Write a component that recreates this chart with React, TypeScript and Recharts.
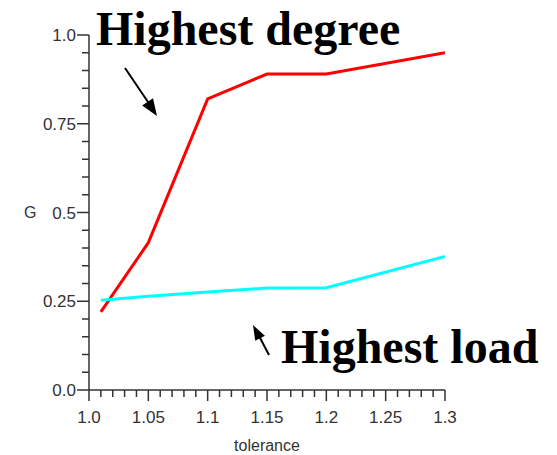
import React from 'react';
import { LineChart, Line, XAxis, YAxis } from 'recharts';

// tolerance values along x, G values per heuristic
const degreeX = [1.01, 1.05, 1.1, 1.15, 1.2, 1.3];
const degreeG = [0.22, 0.415, 0.82, 0.89, 0.89, 0.95];
const loadX = [1.01, 1.05, 1.1, 1.15, 1.2, 1.3];
const loadG = [0.253, 0.264, 0.276, 0.287, 0.288, 0.376];

const xMajor = [1.0, 1.05, 1.1, 1.15, 1.2, 1.25, 1.3];
const xLabels = ['1.0', '1.05', '1.1', '1.15', '1.2', '1.25', '1.3'];
const yMajor = [0, 0.25, 0.5, 0.75, 1.0];
const yLabels = ['0.0', '0.25', '0.5', '0.75', '1.0'];

// minor ticks every 0.01 on x and 0.05 on y
const xTicks: number[] = [];
for (let i = 0; i <= 30; i++) xTicks.push(Math.round((1 + i * 0.01) * 100) / 100);
const yTicks: number[] = [];
for (let i = 0; i <= 20; i++) yTicks.push(Math.round(i * 5) / 100);

const degreeData = degreeX.map((x, i) => ({ x, g: degreeG[i] }));
const loadData = loadX.map((x, i) => ({ x, g: loadG[i] }));

const AXIS = '#333';
const LABEL_FONT = '"Liberation Sans", Arial, sans-serif';

const XTick = (props: any) => {
    const { x, y, payload } = props;
    const idx = xMajor.findIndex((m) => Math.abs(m - payload.value) < 1e-6);
    return (
        <g>
            <line x1={x} x2={x} y1={y} y2={y + (idx >= 0 ? 11 : 7)} stroke={AXIS} strokeWidth={1.5} />
            {idx >= 0 && (
                <text x={x} y={y + 33} textAnchor="middle" fontSize={17} fontFamily={LABEL_FONT} fill={AXIS}>
                    {xLabels[idx]}
                </text>
            )}
        </g>
    );
};

const YTick = (props: any) => {
    const { x, y, payload } = props;
    const idx = yMajor.findIndex((m) => Math.abs(m - payload.value) < 1e-6);
    return (
        <g>
            <line x1={x - (idx >= 0 ? 12 : 7)} x2={x} y1={y} y2={y} stroke={AXIS} strokeWidth={1.5} />
            {idx >= 0 && (
                <text x={x - 13} y={y + 6} textAnchor="end" fontSize={17} fontFamily={LABEL_FONT} fill={AXIS}>
                    {yLabels[idx]}
                </text>
            )}
        </g>
    );
};

const arrowHead = (tx: number, ty: number, fx: number, fy: number, len: number, half: number) => {
    const dx = tx - fx;
    const dy = ty - fy;
    const d = Math.sqrt(dx * dx + dy * dy);
    const ux = dx / d;
    const uy = dy / d;
    const bx = tx - ux * len;
    const by = ty - uy * len;
    return `${tx},${ty} ${bx - uy * half},${by + ux * half} ${bx + uy * half},${by - ux * half}`;
};

const App = () => {
    return (
        <div style={{ position: 'absolute', left: 0, top: 0, width: 557, height: 455, background: '#fff' }}>
            <LineChart width={557} height={455} margin={{ top: 35, right: 112, bottom: 0, left: 0 }}>
                <XAxis
                    type="number"
                    dataKey="x"
                    domain={[1, 1.3]}
                    ticks={xTicks}
                    interval={0}
                    allowDataOverflow
                    height={65}
                    tickSize={0}
                    tickMargin={0}
                    tickLine={false}
                    tick={<XTick />}
                    axisLine={{ stroke: AXIS, strokeWidth: 1.5 }}
                    label={{ value: 'tolerance', position: 'insideBottom', offset: 4, fontSize: 16, fontFamily: LABEL_FONT, fill: AXIS }}
                />
                <YAxis
                    type="number"
                    dataKey="g"
                    domain={[0, 1]}
                    ticks={yTicks}
                    interval={0}
                    allowDataOverflow
                    width={89}
                    tickSize={0}
                    tickMargin={0}
                    tickLine={false}
                    tick={<YTick />}
                    axisLine={{ stroke: AXIS, strokeWidth: 1.5 }}
                    label={{ value: 'G', position: 'insideLeft', offset: 24, fontSize: 16, fontFamily: LABEL_FONT, fill: AXIS }}
                />
                <Line data={degreeData} dataKey="g" stroke="#ff0000" strokeWidth={3} dot={false} isAnimationActive={false} />
                <Line data={loadData} dataKey="g" stroke="#00ffff" strokeWidth={3} dot={false} isAnimationActive={false} />
            </LineChart>

            {/* Annotations */}
            <svg width={557} height={455} style={{ position: 'absolute', left: 0, top: 0, pointerEvents: 'none' }}>
                <text x={96} y={45} fontFamily='"Liberation Serif", "Times New Roman", serif' fontWeight="bold" fontSize={48} fill="#000">
                    Highest degree
                </text>
                <line x1={125} y1={68} x2={150} y2={105} stroke="#000" strokeWidth={2} />
                <polygon points={arrowHead(157, 116, 125, 68, 17, 6.5)} fill="#000" />

                <text x={281} y={363} fontFamily='"Liberation Serif", "Times New Roman", serif' fontWeight="bold" fontSize={48} fill="#000">
                    Highest load
                </text>
                <line x1={269} y1={355} x2={258} y2={334} stroke="#000" strokeWidth={2} />
                <polygon points={arrowHead(253, 325, 269, 355, 15, 5.5)} fill="#000" />
            </svg>
        </div>
    );
};

export default App;
